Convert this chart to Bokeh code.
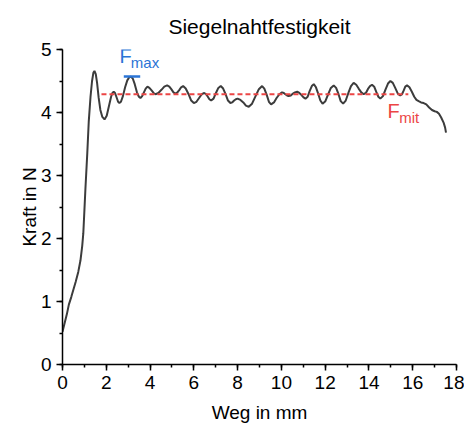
from bokeh.plotting import figure
from bokeh.models import Range1d, SingleIntervalTicker, Label
from bokeh.embed import file_html
from bokeh.resources import INLINE

# Data (Weg in mm, Kraft in N)
weg_mm = [0.00, 0.20, 0.29, 0.40, 0.60, 0.72, 0.82, 0.90, 0.95, 1.00, 1.05, 1.13, 1.20,
          1.28, 1.35, 1.41, 1.46, 1.52, 1.58, 1.65, 1.73, 1.82, 1.92, 2.02, 2.12,
          2.22, 2.28, 2.34, 2.40, 2.48, 2.54, 2.60, 2.67, 2.76, 2.86, 2.96, 3.05,
          3.13, 3.21, 3.30, 3.40, 3.49, 3.56,
          3.64, 3.72, 3.80, 3.88, 3.97, 4.07, 4.16, 4.25, 4.38, 4.52, 4.65, 4.78,
          4.88, 4.97, 5.07, 5.16, 5.25, 5.34, 5.42, 5.51, 5.63, 5.76, 5.88, 6.00,
          6.12, 6.24, 6.36, 6.48, 6.56, 6.64, 6.71, 6.79, 6.90, 7.01, 7.12, 7.23,
          7.34, 7.45, 7.56, 7.67, 7.75, 7.84, 7.92, 8.00, 8.13, 8.26, 8.38, 8.51,
          8.66, 8.82, 8.97, 9.12, 9.22, 9.33, 9.43, 9.53, 9.66, 9.78, 9.91, 10.03,
          10.11, 10.18, 10.26, 10.33, 10.43, 10.53, 10.62, 10.72, 10.82, 10.91, 11.01, 11.10,
          11.20, 11.29, 11.39, 11.48, 11.58, 11.68, 11.78, 11.88, 12.01, 12.14, 12.26, 12.39,
          12.50, 12.61, 12.71, 12.82, 12.94, 13.06, 13.18, 13.30, 13.42, 13.53, 13.65, 13.76,
          13.86, 13.95, 14.05, 14.14, 14.24, 14.33, 14.43, 14.52, 14.64, 14.75, 14.87, 14.98,
          15.09, 15.20, 15.32, 15.43, 15.51, 15.59, 15.66, 15.74,
          15.85, 15.96, 16.07, 16.17, 16.27, 16.38, 16.50, 16.62, 16.75, 16.88, 17.00,
          17.10, 17.20, 17.30, 17.41, 17.48, 17.52]
kraft_N = [0.52, 0.80, 0.95, 1.07, 1.31, 1.47, 1.65, 1.88, 2.08, 2.44, 2.81, 3.34, 3.86,
           4.25, 4.50, 4.63, 4.66, 4.61, 4.47, 4.24, 4.04, 3.93, 3.89, 3.95, 4.10,
           4.25, 4.31, 4.33, 4.31, 4.23, 4.17, 4.15, 4.17, 4.26, 4.40, 4.51, 4.56,
           4.57, 4.54, 4.45, 4.32, 4.25, 4.23,
           4.26, 4.32, 4.38, 4.41, 4.39, 4.35, 4.31, 4.29, 4.31, 4.36, 4.41, 4.43,
           4.41, 4.37, 4.32, 4.30, 4.32, 4.36, 4.40, 4.42, 4.38, 4.29, 4.19, 4.15,
           4.17, 4.23, 4.29, 4.31, 4.29, 4.25, 4.21, 4.19, 4.22, 4.31, 4.39, 4.42,
           4.38, 4.29, 4.19, 4.15, 4.16, 4.19, 4.21, 4.22, 4.20, 4.16, 4.11, 4.09,
           4.14, 4.26, 4.37, 4.42, 4.38, 4.28, 4.17, 4.13, 4.16, 4.23, 4.29, 4.32,
           4.31, 4.29, 4.27, 4.26, 4.27, 4.30, 4.32, 4.33, 4.31, 4.28, 4.24, 4.22,
           4.25, 4.34, 4.42, 4.45, 4.40, 4.30, 4.19, 4.14, 4.18, 4.29, 4.39, 4.43,
           4.39, 4.29, 4.18, 4.14, 4.19, 4.31, 4.42, 4.47, 4.44, 4.38, 4.32, 4.29,
           4.31, 4.37, 4.42, 4.44, 4.41, 4.33, 4.25, 4.22, 4.26, 4.36, 4.46, 4.50,
           4.47, 4.39, 4.30, 4.27, 4.29, 4.35, 4.41, 4.43,
           4.40, 4.33, 4.25, 4.20, 4.18, 4.16, 4.15, 4.13, 4.08, 4.04, 4.02,
           4.01, 3.98, 3.92, 3.84, 3.76, 3.68]

F_mit = 4.29
F_mit_range = [1.78, 15.8]
F_max = 4.57
F_max_range = [2.80, 3.55]

x_ticks_interval = 2
y_ticks_interval = 1

FONT = "Liberation Sans"
BLUE = "#2a74d6"
RED = "#ec4545"

p = figure(width=464, height=425, output_backend="svg", toolbar_location=None,
           x_range=Range1d(0, 18), y_range=Range1d(0, 5),
           min_border_left=62, min_border_right=8, min_border_top=48, min_border_bottom=60)
p.outline_line_color = None
p.grid.visible = False
p.background_fill_color = "white"
p.border_fill_color = "white"

p.title.text = "Siegelnahtfestigkeit"
p.title.align = "center"
p.title.text_font = FONT
p.title.text_font_size = "21px"
p.title.text_font_style = "normal"
p.title.text_color = "black"
p.title.standoff = 24
p.title.offset = -8

p.xaxis.ticker = SingleIntervalTicker(interval=x_ticks_interval, num_minor_ticks=2)
p.yaxis.ticker = SingleIntervalTicker(interval=y_ticks_interval, num_minor_ticks=2)
p.xaxis.axis_label = "Weg in mm"
p.yaxis.axis_label = "Kraft in N"
for ax in (p.xaxis, p.yaxis):
    ax.axis_line_color = "black"
    ax.axis_line_width = 1.5
    ax.major_tick_line_color = "black"
    ax.major_tick_line_width = 1.5
    ax.minor_tick_line_color = "black"
    ax.minor_tick_line_width = 1.5
    ax.major_tick_in = 0
    ax.major_tick_out = 6
    ax.minor_tick_in = 0
    ax.minor_tick_out = 3
    ax.major_label_text_font = FONT
    ax.major_label_text_font_size = "19px"
    ax.major_label_text_color = "black"
    ax.major_label_standoff = 5
    ax.axis_label_text_font = FONT
    ax.axis_label_text_font_size = "19px"
    ax.axis_label_text_font_style = "normal"
    ax.axis_label_text_color = "black"
p.xaxis.axis_label_standoff = 10
p.yaxis.axis_label_standoff = -2

p.line(weg_mm, kraft_N, line_color="#3c3c3c", line_width=2)
p.line(F_mit_range, [F_mit, F_mit], line_color=RED, line_width=1.8, line_dash="5 3")
p.line(F_max_range, [F_max, F_max], line_color=BLUE, line_width=2.5)

p.add_layout(Label(x=2.60, y=4.89, text="F", text_font=FONT, text_font_size="20px",
                   text_color=BLUE, text_baseline="alphabetic"))
p.add_layout(Label(x=3.12, y=4.80, text="max", text_font=FONT, text_font_size="15px",
                   text_color=BLUE, text_baseline="alphabetic"))
p.add_layout(Label(x=14.85, y=4.03, text="F", text_font=FONT, text_font_size="20px",
                   text_color=RED, text_baseline="alphabetic"))
p.add_layout(Label(x=15.38, y=3.92, text="mit", text_font=FONT, text_font_size="15px",
                   text_color=RED, text_baseline="alphabetic"))

open("out.html", "w").write(file_html(p, INLINE))
